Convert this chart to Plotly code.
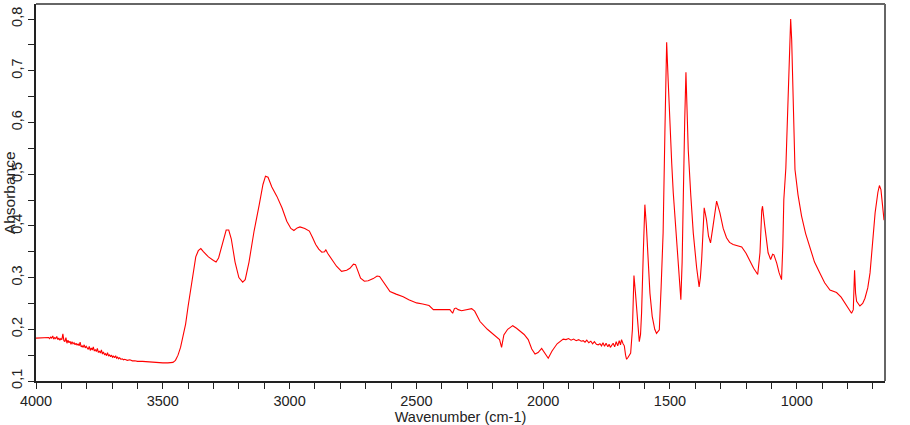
import plotly.graph_objects as go

wavenumber = [
    4000, 3980, 3960, 3950, 3946, 3942, 3938, 3934, 3930, 3926, 3922, 3918, 3914, 3910,
    3906, 3902, 3898, 3894, 3890, 3886, 3882, 3878, 3874, 3870, 3866, 3862, 3858, 3854,
    3850, 3846, 3842, 3838, 3834, 3830, 3826, 3822, 3818, 3814, 3810, 3806, 3802, 3798,
    3794, 3790, 3786, 3782, 3778, 3774, 3770, 3766, 3762, 3758, 3754, 3750, 3746, 3742,
    3738, 3734, 3730, 3726, 3722, 3718, 3714, 3710, 3706, 3702, 3698, 3694, 3690, 3686,
    3682, 3678, 3674, 3670, 3665, 3660, 3655, 3650, 3640, 3630, 3620, 3610, 3600, 3580,
    3560, 3540, 3520, 3500, 3480, 3460,
    3450, 3440, 3430, 3420, 3410, 3400, 3390, 3380, 3370, 3360, 3350, 3340, 3320, 3300,
    3290, 3280, 3265, 3250, 3240, 3230, 3215, 3200, 3185, 3175, 3160, 3140, 3120, 3105,
    3095, 3085, 3070, 3050, 3030, 3011, 2995, 2983, 2970, 2959, 2940, 2922, 2910, 2897,
    2885, 2873, 2862, 2857, 2850, 2834, 2815, 2795, 2775, 2762, 2748, 2740, 2730, 2720,
    2705, 2690, 2670, 2655, 2645, 2630, 2604, 2580, 2552, 2530, 2499, 2475, 2460, 2450,
    2433, 2400, 2368, 2357, 2350, 2344, 2335, 2322, 2300, 2282, 2270, 2249, 2220, 2200,
    2183, 2172, 2164, 2155, 2140, 2120, 2105, 2092, 2075, 2059, 2045, 2032, 2020, 2006,
    1995, 1980, 1965, 1945, 1921,
    1910, 1900, 1890, 1880, 1870, 1860, 1850, 1842, 1835, 1828, 1820, 1812, 1805, 1798,
    1790, 1783, 1776, 1770, 1764, 1758, 1752, 1745, 1740, 1735, 1730, 1724, 1718, 1712,
    1706, 1700, 1695, 1691, 1685, 1680, 1675, 1671, 1665, 1660, 1655, 1648, 1642, 1636,
    1629, 1621, 1616, 1612, 1605, 1599, 1593, 1586, 1579, 1570, 1560, 1553, 1542, 1535,
    1527, 1520, 1513, 1507, 1500, 1493, 1487, 1478, 1470, 1462, 1457, 1452, 1448, 1442,
    1437, 1432, 1428, 1418, 1408, 1395, 1385, 1380, 1375, 1365, 1356, 1348, 1340, 1330,
    1320, 1316, 1303, 1290, 1277, 1265, 1251, 1235, 1217, 1200, 1185, 1170, 1154, 1145,
    1138, 1135, 1126, 1113, 1103, 1095, 1090, 1079, 1070, 1060, 1055, 1051, 1043, 1034,
    1027, 1024, 1020, 1016, 1010, 1007, 995, 981, 965, 948, 930, 909, 890, 869,
    843, 825, 810, 795, 784, 777, 772, 768, 764, 751, 740, 731, 720, 711,
    700, 691, 680, 674, 668, 665, 656, 652,
]

absorbance = [
    0.183, 0.183, 0.183, 0.184, 0.182, 0.185, 0.183, 0.187, 0.181, 0.184, 0.182, 0.186, 0.180, 0.183,
    0.179, 0.182, 0.180, 0.191, 0.178, 0.176, 0.184, 0.173, 0.179, 0.174, 0.177, 0.171, 0.176, 0.172,
    0.174, 0.170, 0.173, 0.169, 0.172, 0.168, 0.175, 0.166, 0.168, 0.165, 0.170, 0.164, 0.167, 0.163,
    0.161, 0.167, 0.159, 0.164, 0.160, 0.166, 0.158, 0.161, 0.157, 0.163, 0.155, 0.158, 0.154, 0.160,
    0.152, 0.156, 0.151, 0.153, 0.149, 0.155, 0.148, 0.151, 0.147, 0.150, 0.146, 0.148, 0.145, 0.149,
    0.144, 0.146, 0.143, 0.145, 0.142, 0.143, 0.141, 0.142, 0.140, 0.141, 0.139, 0.139, 0.138, 0.138,
    0.137, 0.136, 0.136, 0.135, 0.135, 0.136,
    0.140, 0.150, 0.165, 0.185, 0.210, 0.245, 0.280, 0.315, 0.340, 0.352, 0.356, 0.350, 0.340, 0.333,
    0.330, 0.338, 0.365, 0.392, 0.392, 0.375, 0.330, 0.300, 0.291, 0.296, 0.330, 0.390, 0.440, 0.480,
    0.496, 0.494, 0.475, 0.457, 0.435, 0.409, 0.395, 0.391, 0.396, 0.398, 0.395, 0.390, 0.378, 0.364,
    0.355, 0.349, 0.350, 0.354, 0.347, 0.335, 0.322, 0.312, 0.314, 0.318, 0.326, 0.325, 0.310, 0.299,
    0.293, 0.294, 0.298, 0.303, 0.302, 0.292, 0.273, 0.268, 0.263, 0.257, 0.251, 0.249, 0.247, 0.246,
    0.238, 0.238, 0.238, 0.231, 0.240, 0.241, 0.238, 0.236, 0.238, 0.240, 0.235, 0.215, 0.200, 0.192,
    0.186, 0.180, 0.165, 0.189, 0.200, 0.207, 0.202, 0.196, 0.190, 0.180, 0.162, 0.152, 0.155, 0.163,
    0.155, 0.144, 0.158, 0.172, 0.181,
    0.180, 0.182, 0.179, 0.181, 0.178, 0.180, 0.177, 0.178, 0.175, 0.179, 0.174, 0.177, 0.172, 0.176,
    0.171, 0.170, 0.172, 0.168, 0.174, 0.167, 0.173, 0.166, 0.171, 0.165, 0.170, 0.173, 0.166, 0.176,
    0.168, 0.178, 0.170, 0.180, 0.172, 0.168, 0.150, 0.142, 0.146, 0.150, 0.154, 0.200, 0.304, 0.270,
    0.225, 0.176, 0.190, 0.231, 0.350, 0.441, 0.400, 0.330, 0.270, 0.225, 0.200, 0.192, 0.199, 0.280,
    0.386, 0.580, 0.755, 0.680, 0.580, 0.520, 0.464, 0.400, 0.341, 0.280, 0.257, 0.330, 0.470, 0.600,
    0.697, 0.620, 0.548, 0.460, 0.386, 0.320, 0.282, 0.300, 0.335, 0.435, 0.412, 0.380, 0.367, 0.400,
    0.440, 0.448, 0.425, 0.395, 0.377, 0.368, 0.364, 0.362, 0.359, 0.347, 0.331, 0.318, 0.306, 0.348,
    0.430, 0.438, 0.399, 0.348, 0.335, 0.345, 0.344, 0.328, 0.310, 0.296, 0.360, 0.451, 0.512, 0.671,
    0.780, 0.800, 0.760, 0.690, 0.570, 0.509, 0.460, 0.419, 0.385, 0.357, 0.330, 0.309, 0.290, 0.276,
    0.271, 0.262, 0.251, 0.240, 0.231, 0.238, 0.314, 0.270, 0.254, 0.245, 0.250, 0.260, 0.280, 0.309,
    0.370, 0.425, 0.465, 0.478, 0.470, 0.451, 0.412, 0.410,
]

x_ticks = [4000, 3500, 3000, 2500, 2000, 1500, 1000]
y_ticks = [0.1, 0.2, 0.3, 0.4, 0.5, 0.6, 0.7, 0.8]
y_tick_labels = ["0,1", "0,2", "0,3", "0,4", "0,5", "0,6", "0,7", "0,8"]

FONT = "Liberation Sans, Arial, sans-serif"

fig = go.Figure()
fig.add_trace(go.Scatter(
    x=wavenumber, y=absorbance, mode="lines",
    line=dict(color="#ff0000", width=1.1),
    showlegend=False, hoverinfo="x+y",
))

fig.update_layout(
    width=910, height=425,
    margin=dict(l=36, r=25, t=4, b=44, pad=0),
    paper_bgcolor="white", plot_bgcolor="white",
    font=dict(family=FONT, size=14, color="#222"),
    xaxis=dict(
        range=[4000, 652], tickmode="array", tickvals=x_ticks,
        ticks="outside", ticklen=6, tickcolor="#222", tickwidth=1,
        minor=dict(dtick=100, tick0=0, ticks="outside", ticklen=6, tickcolor="#222"),
        showline=True, linecolor="#222", linewidth=1.5,
        showgrid=False, zeroline=False, automargin=False,
        title=dict(text="Wavenumber (cm-1)", standoff=2, font=dict(size=14.5)),
        tickfont=dict(size=14.5),
    ),
    yaxis=dict(
        range=[0.1, 0.829], tickmode="array", tickvals=y_ticks, ticktext=y_tick_labels,
        tickangle=-90,
        ticks="outside", ticklen=6, tickcolor="#222", tickwidth=1,
        minor=dict(dtick=0.05, tick0=0, ticks="outside", ticklen=6, tickcolor="#222"),
        showline=True, linecolor="#222", linewidth=1.5,
        showgrid=False, zeroline=False, automargin=False,
        tickfont=dict(size=14.5),
    ),
    shapes=[
        dict(type="line", xref="paper", yref="paper", x0=0, x1=1, y0=1, y1=1,
             line=dict(color="#666", width=2)),
        dict(type="line", xref="paper", yref="paper", x0=1, x1=1, y0=0, y1=1,
             line=dict(color="#666", width=2)),
    ],
    annotations=[
        dict(text="Absorbance", xref="paper", yref="paper", x=-0.031, y=0.5,
             xanchor="center", yanchor="middle", textangle=-90, showarrow=False,
             font=dict(size=15.5, family=FONT, color="#222")),
    ],
)

fig.write_html("out.html")
